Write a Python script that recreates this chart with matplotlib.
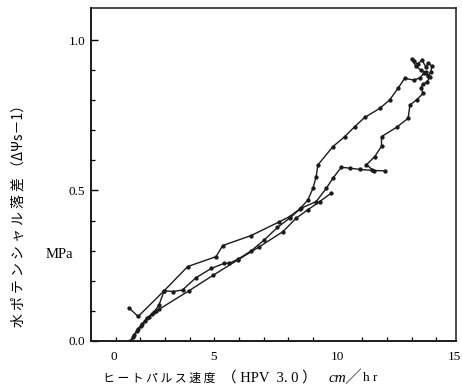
import matplotlib.pyplot as plt

# ---------------- data ----------------
# curve 1 : starts with the small hook, upper path, tangle at top right, comes back down
x1 = [1.55, 1.91, 2.97, 3.92, 5.07, 5.34, 6.49, 7.64, 8.05, 8.46, 8.79, 9.00, 9.13, 9.20,
      9.81, 10.29, 10.69, 11.10, 11.71, 12.11, 12.45, 12.72,
      13.09, 13.33, 13.50, 13.66, 13.78, 13.82, 13.66, 13.58, 13.42, 13.25, 13.09, 13.01,
      13.17, 13.37, 13.58, 13.74, 13.62, 13.46, 13.37,
      13.47, 13.20, 12.93, 12.86, 12.39, 11.78, 11.78, 11.50, 11.17, 11.46]
y1 = [0.109, 0.081, 0.167, 0.247, 0.280, 0.317, 0.350, 0.396, 0.413, 0.438, 0.468, 0.507, 0.546, 0.585,
      0.646, 0.679, 0.712, 0.743, 0.773, 0.801, 0.840, 0.873,
      0.867, 0.874, 0.890, 0.880, 0.894, 0.914, 0.924, 0.910, 0.934, 0.920, 0.930, 0.937,
      0.914, 0.900, 0.894, 0.877, 0.860, 0.854, 0.841,
      0.823, 0.801, 0.784, 0.740, 0.710, 0.679, 0.647, 0.612, 0.586, 0.565]

# curve 2 : middle path, ends on the flat stretch near 0.57
x2 = [1.59, 1.71, 1.87, 2.03, 2.20, 2.36, 2.56, 2.76, 2.97, 3.31, 3.71, 4.24, 4.88, 5.41,
      5.61, 5.95, 6.49, 7.03, 7.56, 8.05, 8.52, 9.13, 9.54, 9.81, 10.15, 10.52, 10.89, 11.38, 11.91]
y2 = [0.000, 0.013, 0.033, 0.050, 0.066, 0.080, 0.096, 0.120, 0.167, 0.164, 0.169, 0.209, 0.241, 0.258,
      0.258, 0.271, 0.299, 0.336, 0.377, 0.408, 0.441, 0.463, 0.507, 0.541, 0.577, 0.574, 0.570, 0.567, 0.565]

# curve 3 : lower path, ends near 0.49
x3 = [1.63, 1.75, 1.91, 2.07, 2.28, 2.48, 2.64, 2.76, 3.98, 4.95, 5.95, 6.83, 7.78, 8.32,
      8.78, 9.27, 9.74]
y3 = [0.000, 0.020, 0.040, 0.056, 0.076, 0.090, 0.100, 0.105, 0.167, 0.218, 0.269, 0.313, 0.363, 0.408,
      0.435, 0.463, 0.491]

xtick_pos = [0.93, 4.95, 10.0, 14.75]
xtick_labels = ['0', '5', '10', '15']

# ---------------- plot ----------------
plt.rcParams['font.family'] = ['Liberation Serif', 'Noto Sans CJK JP']
jp = ['Noto Sans CJK JP', 'DejaVu Sans']

fig = plt.figure(figsize=(4.62, 3.90), dpi=100)
ax = fig.add_axes([0.197, 0.126, 0.790, 0.853])

ink = '#1a1a1a'
for xs, ys in [(x1, y1), (x2, y2), (x3, y3)]:
    ax.plot(xs, ys, '-o', color=ink, lw=1.0, ms=2.1)

ax.set_xlim(0, 14.8)
ax.set_ylim(0, 1.106)

# tick marks drawn inward, labels placed where the scan has them
ax.set_xticks(xtick_pos, xtick_labels)
ax.set_xticks(range(1, 15), minor=True)
ax.tick_params(axis='x', which='major', length=0, pad=7, labelsize=9.5)
ax.tick_params(axis='x', which='minor', direction='in', length=3, width=0.9)

ax.set_yticks([0.0, 0.5, 1.0], ['0.0', '0.5', '1.0'])
ax.set_yticks([i / 10 for i in range(1, 11)], minor=True)
ax.tick_params(axis='y', which='major', direction='in', length=5, width=1, pad=4, labelsize=9.5)
ax.tick_params(axis='y', which='minor', direction='in', length=3, width=0.9)

for s in ax.spines.values():
    s.set_linewidth(1.1)
    s.set_color(ink)
ax.spines['left'].set_linewidth(1.4)
ax.spines['bottom'].set_linewidth(1.4)

# axis titles (spaced out like the old typeset figure)
fig.text(0.040, 0.455, '水 ポ テ ン シ ャ ル 落 差 （ΔΨs－1）', rotation=90, ha='center', va='center',
         fontsize=10, family=jp)
fig.text(0.128, 1 - 255 / 390, 'MPa', ha='center', va='center', fontsize=10.5)

yl = 1 - 378 / 390
fig.text(0.222, yl, 'ヒ ー ト パ ル ス 速 度', ha='left', va='center', fontsize=8.5, family=jp)
fig.text(0.480, yl, '（ HPV  3. 0 ）', ha='left', va='center', fontsize=10.5)
fig.text(0.712, yl, 'cm╱', ha='left', va='center', fontsize=11, style='italic')
fig.text(0.785, yl, 'h r', ha='left', va='center', fontsize=9.5)

fig.savefig('out.png', dpi=100)
